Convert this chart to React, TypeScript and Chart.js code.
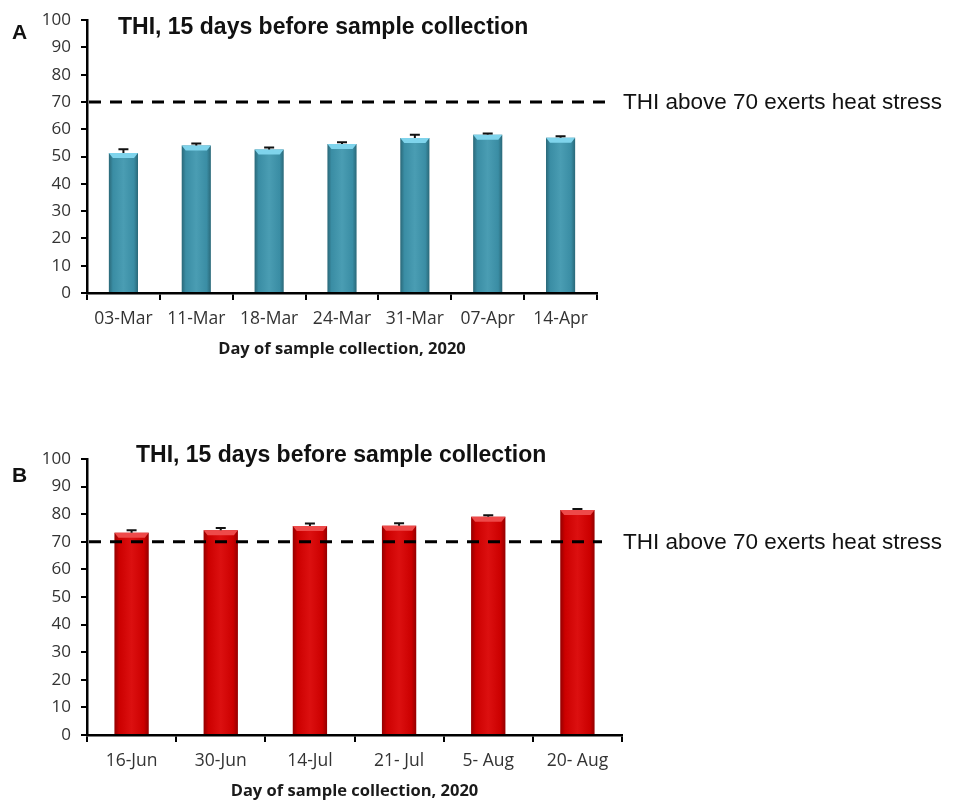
import React, { useEffect, useRef } from "react";
import { Chart, registerables } from "chart.js";

Chart.register(...registerables);

// ---------- data ----------
const datesA = ["03-Mar", "11-Mar", "18-Mar", "24-Mar", "31-Mar", "07-Apr", "14-Apr"];
const thiA = [51.3, 54.1, 52.6, 54.6, 56.8, 58.0, 56.9];
const errA = [1.4, 0.7, 0.7, 0.7, 1.2, 0.5, 0.6];

const datesB = ["16-Jun", "30-Jun", "14-Jul", "21- Jul", "5- Aug", "20- Aug"];
const thiB = [73.3, 74.2, 75.7, 75.8, 79.1, 81.5];
const errB = [0.9, 0.8, 0.9, 0.9, 0.5, 0.4];

const yMin = 0;
const yMax = 100;
const yStep = 10;
const THRESHOLD = 70;

const chartTitle = "THI, 15 days before sample collection";
const xAxisTitle = "Day of sample collection, 2020";
const thresholdLabel = "THI above 70 exerts heat stress";

// ---------- styling ----------
const TICK_FONT = "'Open Sans', 'DejaVu Sans', sans-serif";
const TITLE_FONT = "'Liberation Sans', Arial, sans-serif";

type PanelCfg = {
  letter: string;
  labels: string[];
  values: number[];
  errors: number[];
  top: number;
  height: number;
  padTop: number;
  padRight: number;
  xHeight: number;
  barPct: number;
  colors: { edge: string; mid: string; center: string; cap: string };
  titleX: number;
  titleBaseline: number;
  letterBaseline: number;
  lineEnd: number;
  labelX: number;
};

const panels: PanelCfg[] = [
  {
    letter: "A",
    labels: datesA,
    values: thiA,
    errors: errA,
    top: 0,
    height: 400,
    padTop: 19,
    padRight: 357,
    xHeight: 107,
    barPct: 0.4,
    colors: { edge: "#2a6878", mid: "#3a8da4", center: "#4a9db3", cap: "#7fd4ec" },
    titleX: 118,
    titleBaseline: 34,
    letterBaseline: 39,
    lineEnd: 607,
    labelX: 623,
  },
  {
    letter: "B",
    labels: datesB,
    values: thiB,
    errors: errB,
    top: 400,
    height: 401,
    padTop: 59,
    padRight: 332,
    xHeight: 66,
    barPct: 0.385,
    colors: { edge: "#940000", mid: "#cc0000", center: "#dc1010", cap: "#ee4a4a" },
    titleX: 136,
    titleBaseline: 62,
    letterBaseline: 82,
    lineEnd: 602,
    labelX: 623,
  },
];

function Panel({ cfg }: { cfg: PanelCfg }) {
  const ref = useRef<HTMLCanvasElement | null>(null);

  useEffect(() => {
    const canvas = ref.current;
    if (!canvas) return;
    const n = cfg.labels.length;

    const fill = (ctx: any) => {
      const chart = ctx.chart;
      const xs = chart.scales && chart.scales.x;
      if (!xs || ctx.type !== "data" || !isFinite(xs.width) || xs.width <= 0) return cfg.colors.mid;
      const cx = xs.getPixelForValue(ctx.dataIndex);
      const half = ((xs.width / n) * cfg.barPct) / 2;
      if (!isFinite(cx)) return cfg.colors.mid;
      const g = chart.ctx.createLinearGradient(cx - half, 0, cx + half, 0);
      g.addColorStop(0, cfg.colors.edge);
      g.addColorStop(0.14, cfg.colors.mid);
      g.addColorStop(0.5, cfg.colors.center);
      g.addColorStop(0.86, cfg.colors.mid);
      g.addColorStop(1, cfg.colors.edge);
      return g;
    };

    const overlay = {
      id: "overlay",
      afterDatasetsDraw(chart: any) {
        const c = chart.ctx;
        const ys = chart.scales.y;
        const area = chart.chartArea;
        const meta = chart.getDatasetMeta(0);
        c.save();
        // bar top bevel + error bars
        meta.data.forEach((bar: any, i: number) => {
          const w = bar.width;
          const x = bar.x;
          const y = bar.y;
          c.fillStyle = cfg.colors.cap;
          c.beginPath();
          c.moveTo(x - w / 2, y);
          c.lineTo(x + w / 2, y);
          c.lineTo(x + w / 2 - 4, y + 5);
          c.lineTo(x - w / 2 + 4, y + 5);
          c.closePath();
          c.fill();

          const yTop = ys.getPixelForValue(cfg.values[i] + cfg.errors[i]);
          c.strokeStyle = "#111";
          c.lineWidth = 2;
          c.beginPath();
          c.moveTo(x, y);
          c.lineTo(x, yTop);
          c.moveTo(x - 5, yTop);
          c.lineTo(x + 5, yTop);
          c.stroke();
        });
        // threshold dashed line
        const yT = ys.getPixelForValue(THRESHOLD);
        c.strokeStyle = "#000";
        c.lineWidth = 3;
        c.setLineDash([12, 9]);
        c.beginPath();
        c.moveTo(area.left + 2, yT);
        c.lineTo(cfg.lineEnd, yT);
        c.stroke();
        c.setLineDash([]);
        // threshold label
        c.fillStyle = "#111";
        c.font = `22.5px ${TITLE_FONT}`;
        c.textAlign = "left";
        c.textBaseline = "middle";
        c.fillText(thresholdLabel, cfg.labelX, yT + 1);
        // chart title
        c.font = `bold 23px ${TITLE_FONT}`;
        c.textBaseline = "alphabetic";
        c.fillText(chartTitle, cfg.titleX, cfg.titleBaseline);
        // panel letter
        c.font = `bold 21px ${TITLE_FONT}`;
        c.fillText(cfg.letter, 12, cfg.letterBaseline);
        // x-axis title
        c.font = `bold 16.5px ${TICK_FONT}`;
        c.textAlign = "center";
        c.textBaseline = "middle";
        c.fillStyle = "#1a1a1a";
        c.fillText(xAxisTitle, (area.left + area.right) / 2, area.bottom + 56);
        c.restore();
      },
    };

    const chart = new Chart(canvas, {
      type: "bar",
      data: {
        labels: cfg.labels,
        datasets: [
          {
            data: cfg.values,
            backgroundColor: fill as any,
            borderWidth: 0,
            barPercentage: cfg.barPct,
            categoryPercentage: 1,
          },
        ],
      },
      options: {
        animation: false,
        responsive: false,
        maintainAspectRatio: false,
        layout: { padding: { top: cfg.padTop, right: cfg.padRight, left: 0, bottom: 0 } },
        plugins: {
          legend: { display: false },
          tooltip: { enabled: false },
          title: { display: false },
        },
        scales: {
          x: {
            grid: {
              display: true,
              drawOnChartArea: false,
              drawTicks: true,
              tickLength: 7,
              color: "#000",
              lineWidth: 2,
              offset: true,
            },
            border: { display: true, color: "#000", width: 2.5 },
            ticks: {
              color: "#333",
              padding: 9,
              maxRotation: 0,
              autoSkip: false,
              font: { family: TICK_FONT, size: 17.5 },
            },
            afterFit: (s: any) => {
              s.height = cfg.xHeight;
            },
          },
          y: {
            min: yMin,
            max: yMax,
            grid: {
              display: true,
              drawOnChartArea: false,
              drawTicks: true,
              tickLength: 6,
              color: "#000",
              lineWidth: 2,
            },
            border: { display: true, color: "#000", width: 2.5 },
            ticks: {
              stepSize: yStep,
              color: "#333",
              padding: 10,
              font: { family: TICK_FONT, size: 17 },
            },
            afterFit: (s: any) => {
              s.width = 87;
            },
          },
        },
      },
      plugins: [overlay],
    });
    return () => chart.destroy();
  }, [cfg]);

  return (
    <canvas
      ref={ref}
      width={954}
      height={cfg.height}
      style={{ position: "absolute", left: 0, top: cfg.top, width: 954, height: cfg.height }}
    />
  );
}

export default function App() {
  return (
    <div style={{ position: "absolute", left: 0, top: 0, width: 954, height: 801, background: "#fff" }}>
      {panels.map((p) => (
        <Panel key={p.letter} cfg={p} />
      ))}
    </div>
  );
}
